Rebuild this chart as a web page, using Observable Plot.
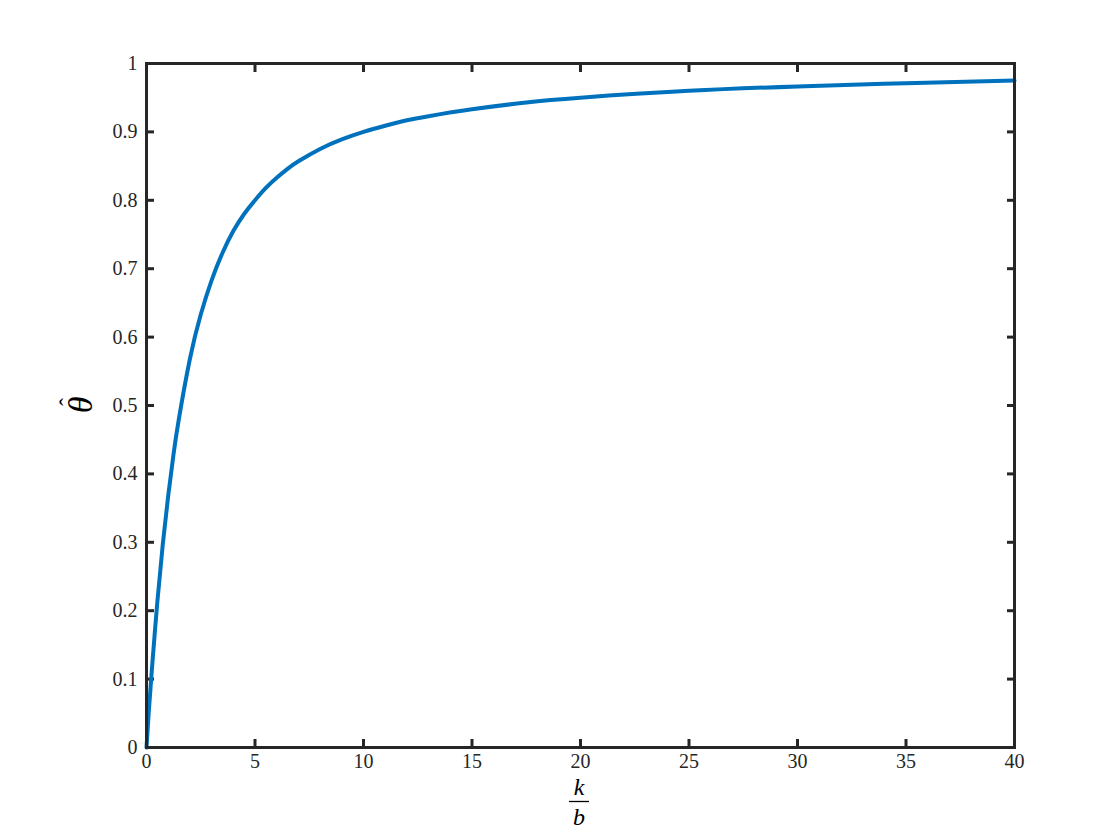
<!DOCTYPE html>
<html>
<head>
<meta charset="utf-8">
<script src="https://cdn.jsdelivr.net/npm/d3@7"></script>
<script src="https://cdn.jsdelivr.net/npm/@observablehq/plot@0.6"></script>
<style>
  html, body { margin: 0; padding: 0; background: #ffffff; }
  #chart { width: 1120px; height: 840px; position: relative; }
  svg { display: block; }
</style>
</head>
<body>
<div id="chart"></div>
<script>
// k/b values
const ratio = [0, 0.1, 0.25, 0.5, 0.75, 1, 1.25, 1.5, 2, 2.5, 3, 3.5, 4, 4.5, 5, 5.5, 6, 6.5, 7, 8, 9, 10, 11, 12, 13, 15, 17.5, 20, 25, 30, 35, 40];
// theta-hat values
const thetaHat = [0, 0.05, 0.115, 0.213, 0.297, 0.368, 0.43, 0.482, 0.568, 0.633, 0.683, 0.723, 0.755, 0.78, 0.80, 0.818, 0.833, 0.846, 0.857, 0.875, 0.889, 0.90, 0.909, 0.917, 0.923, 0.933, 0.943, 0.95, 0.96, 0.9665, 0.9713, 0.975];
const xTicks = [0, 5, 10, 15, 20, 25, 30, 35, 40];
const xTickLabels = ["0", "5", "10", "15", "20", "25", "30", "35", "40"];
const yTicks = [0, 0.1, 0.2, 0.3, 0.4, 0.5, 0.6, 0.7, 0.8, 0.9, 1];
const yTickLabels = ["0", "0.1", "0.2", "0.3", "0.4", "0.5", "0.6", "0.7", "0.8", "0.9", "1"];

const data = ratio.map((r, i) => ({r, t: thetaHat[i]}));
const axisColor = "#262626";
const fontFam = "'Liberation Serif', 'DejaVu Serif', serif";

const plot = Plot.plot({
  width: 1120,
  height: 840,
  marginTop: 63,
  marginBottom: 93,
  marginLeft: 146,
  marginRight: 106,
  style: {background: "#ffffff", fontFamily: fontFam, color: "#262626"},
  x: {domain: [0, 40], axis: null},
  y: {domain: [0, 1], axis: null},
  marks: [
    // tick labels
    Plot.text(xTicks, {x: (d) => d, text: (d, i) => xTickLabels[i], frameAnchor: "bottom", dy: 20,
      fontSize: 20, fill: "#262626", fontFamily: fontFam}),
    Plot.text(yTicks, {y: (d) => d, text: (d, i) => yTickLabels[i], frameAnchor: "left", dx: -9,
      textAnchor: "end", fontSize: 20, fill: "#262626", fontFamily: fontFam}),
    // inward ticks on all four sides
    Plot.axisX(xTicks, {anchor: "bottom", tickSize: -8, tickFormat: () => "", label: null, stroke: axisColor, strokeWidth: 3}),
    Plot.axisX(xTicks, {anchor: "top", tickSize: -8, tickFormat: () => "", label: null, stroke: axisColor, strokeWidth: 3}),
    Plot.axisY(yTicks, {anchor: "left", tickSize: -8, tickFormat: () => "", label: null, stroke: axisColor, strokeWidth: 3}),
    Plot.axisY(yTicks, {anchor: "right", tickSize: -8, tickFormat: () => "", label: null, stroke: axisColor, strokeWidth: 3}),
    Plot.line(data, {x: "r", y: "t", stroke: "#0072BD", strokeWidth: 4, curve: "natural"}),
    Plot.frame({stroke: axisColor, strokeWidth: 3})
  ]
});

document.getElementById("chart").appendChild(plot);

const svg = d3.select(plot);

// y label: theta-hat rotated
const yl = svg.append("g").attr("transform", "translate(80,405) rotate(-90)");
yl.append("text")
  .attr("x", 0).attr("y", 0)
  .attr("text-anchor", "middle")
  .attr("dominant-baseline", "central")
  .attr("font-family", fontFam)
  .attr("font-style", "italic")
  .style("font-size", "34px")
  .attr("fill", "#000")
  .text("θ");
yl.append("text")
  .attr("x", 3).attr("y", -4)
  .attr("text-anchor", "middle")
  .attr("font-family", fontFam)
  .style("font-size", "24px")
  .attr("fill", "#000")
  .text("ˆ");
// x label: fraction k / b
const cx = 579;
svg.append("text")
  .attr("x", cx).attr("y", 795)
  .attr("text-anchor", "middle")
  .attr("font-family", fontFam)
  .attr("font-style", "italic")
  .style("font-size", "24px")
  .attr("fill", "#000")
  .text("k");
svg.append("line")
  .attr("x1", cx - 10).attr("x2", cx + 10)
  .attr("y1", 801.5).attr("y2", 801.5)
  .attr("stroke", "#000").attr("stroke-width", 1.3);
svg.append("text")
  .attr("x", cx).attr("y", 825)
  .attr("text-anchor", "middle")
  .attr("font-family", fontFam)
  .attr("font-style", "italic")
  .style("font-size", "24px")
  .attr("fill", "#000")
  .text("b");
</script>
</body>
</html>
